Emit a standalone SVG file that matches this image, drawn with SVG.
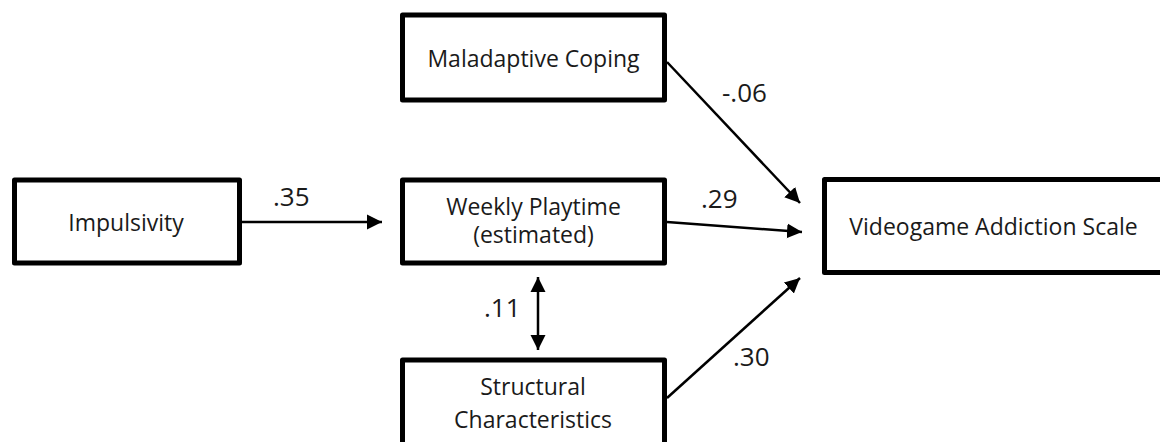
<svg xmlns="http://www.w3.org/2000/svg" width="1160" height="442" viewBox="0 0 1160 442">
<style>
.box{fill:#fff;stroke:#000;stroke-width:5;stroke-linejoin:round}
.nt{font-family:"Open Sans","DejaVu Sans",sans-serif;font-size:23px;fill:#1a1a1a;text-anchor:middle}
.lb{font-family:"Open Sans","DejaVu Sans",sans-serif;font-size:26px;fill:#1a1a1a}
.ln{stroke:#000;stroke-width:2.5;fill:none}
</style>
<defs>
<marker id="ah" markerUnits="userSpaceOnUse" markerWidth="16" markerHeight="16" refX="15" refY="8" orient="auto-start-reverse" viewBox="0 0 16 16">
<path d="M0,0.5 L15,8 L0,15.5 z" fill="#000"/>
</marker>
</defs>
<g id="connectors">
<line class="ln" x1="242" y1="222" x2="382" y2="222" marker-end="url(#ah)"/>
<line class="ln" x1="667" y1="62" x2="800" y2="203" marker-end="url(#ah)"/>
<line class="ln" x1="667" y1="222" x2="802" y2="232" marker-end="url(#ah)"/>
<line class="ln" x1="667" y1="398" x2="800" y2="278" marker-end="url(#ah)"/>
<line class="ln" x1="538" y1="277" x2="538" y2="350" marker-start="url(#ah)" marker-end="url(#ah)"/>
<text class="lb" x="273" y="206">.35</text>
<text class="lb" x="722" y="102">-.06</text>
<text class="lb" x="701" y="208">.29</text>
<text class="lb" x="484" y="317">.11</text>
<text class="lb" x="733" y="366">.30</text>
</g>
<g id="maladaptive">
<rect class="box" x="402.5" y="15" width="262" height="85"/>
<text class="nt" x="533.5" y="67">Maladaptive Coping</text>
</g>
<g id="impulsivity">
<rect class="box" x="14.5" y="180" width="225" height="83"/>
<text class="nt" x="126" y="231">Impulsivity</text>
</g>
<g id="weekly">
<rect class="box" x="402.5" y="180" width="262" height="83"/>
<text class="nt" x="533.5" y="215">Weekly Playtime</text>
<text class="nt" x="533.5" y="243">(estimated)</text>
</g>
<g id="structural">
<rect class="box" x="402.5" y="360" width="262" height="95"/>
<text class="nt" x="533" y="395">Structural</text>
<text class="nt" x="533" y="428">Characteristics</text>
</g>
<g id="videogame">
<rect class="box" x="824.5" y="179.5" width="360" height="93"/>
<text class="nt" x="993.5" y="235">Videogame Addiction Scale</text>
</g>
</svg>
